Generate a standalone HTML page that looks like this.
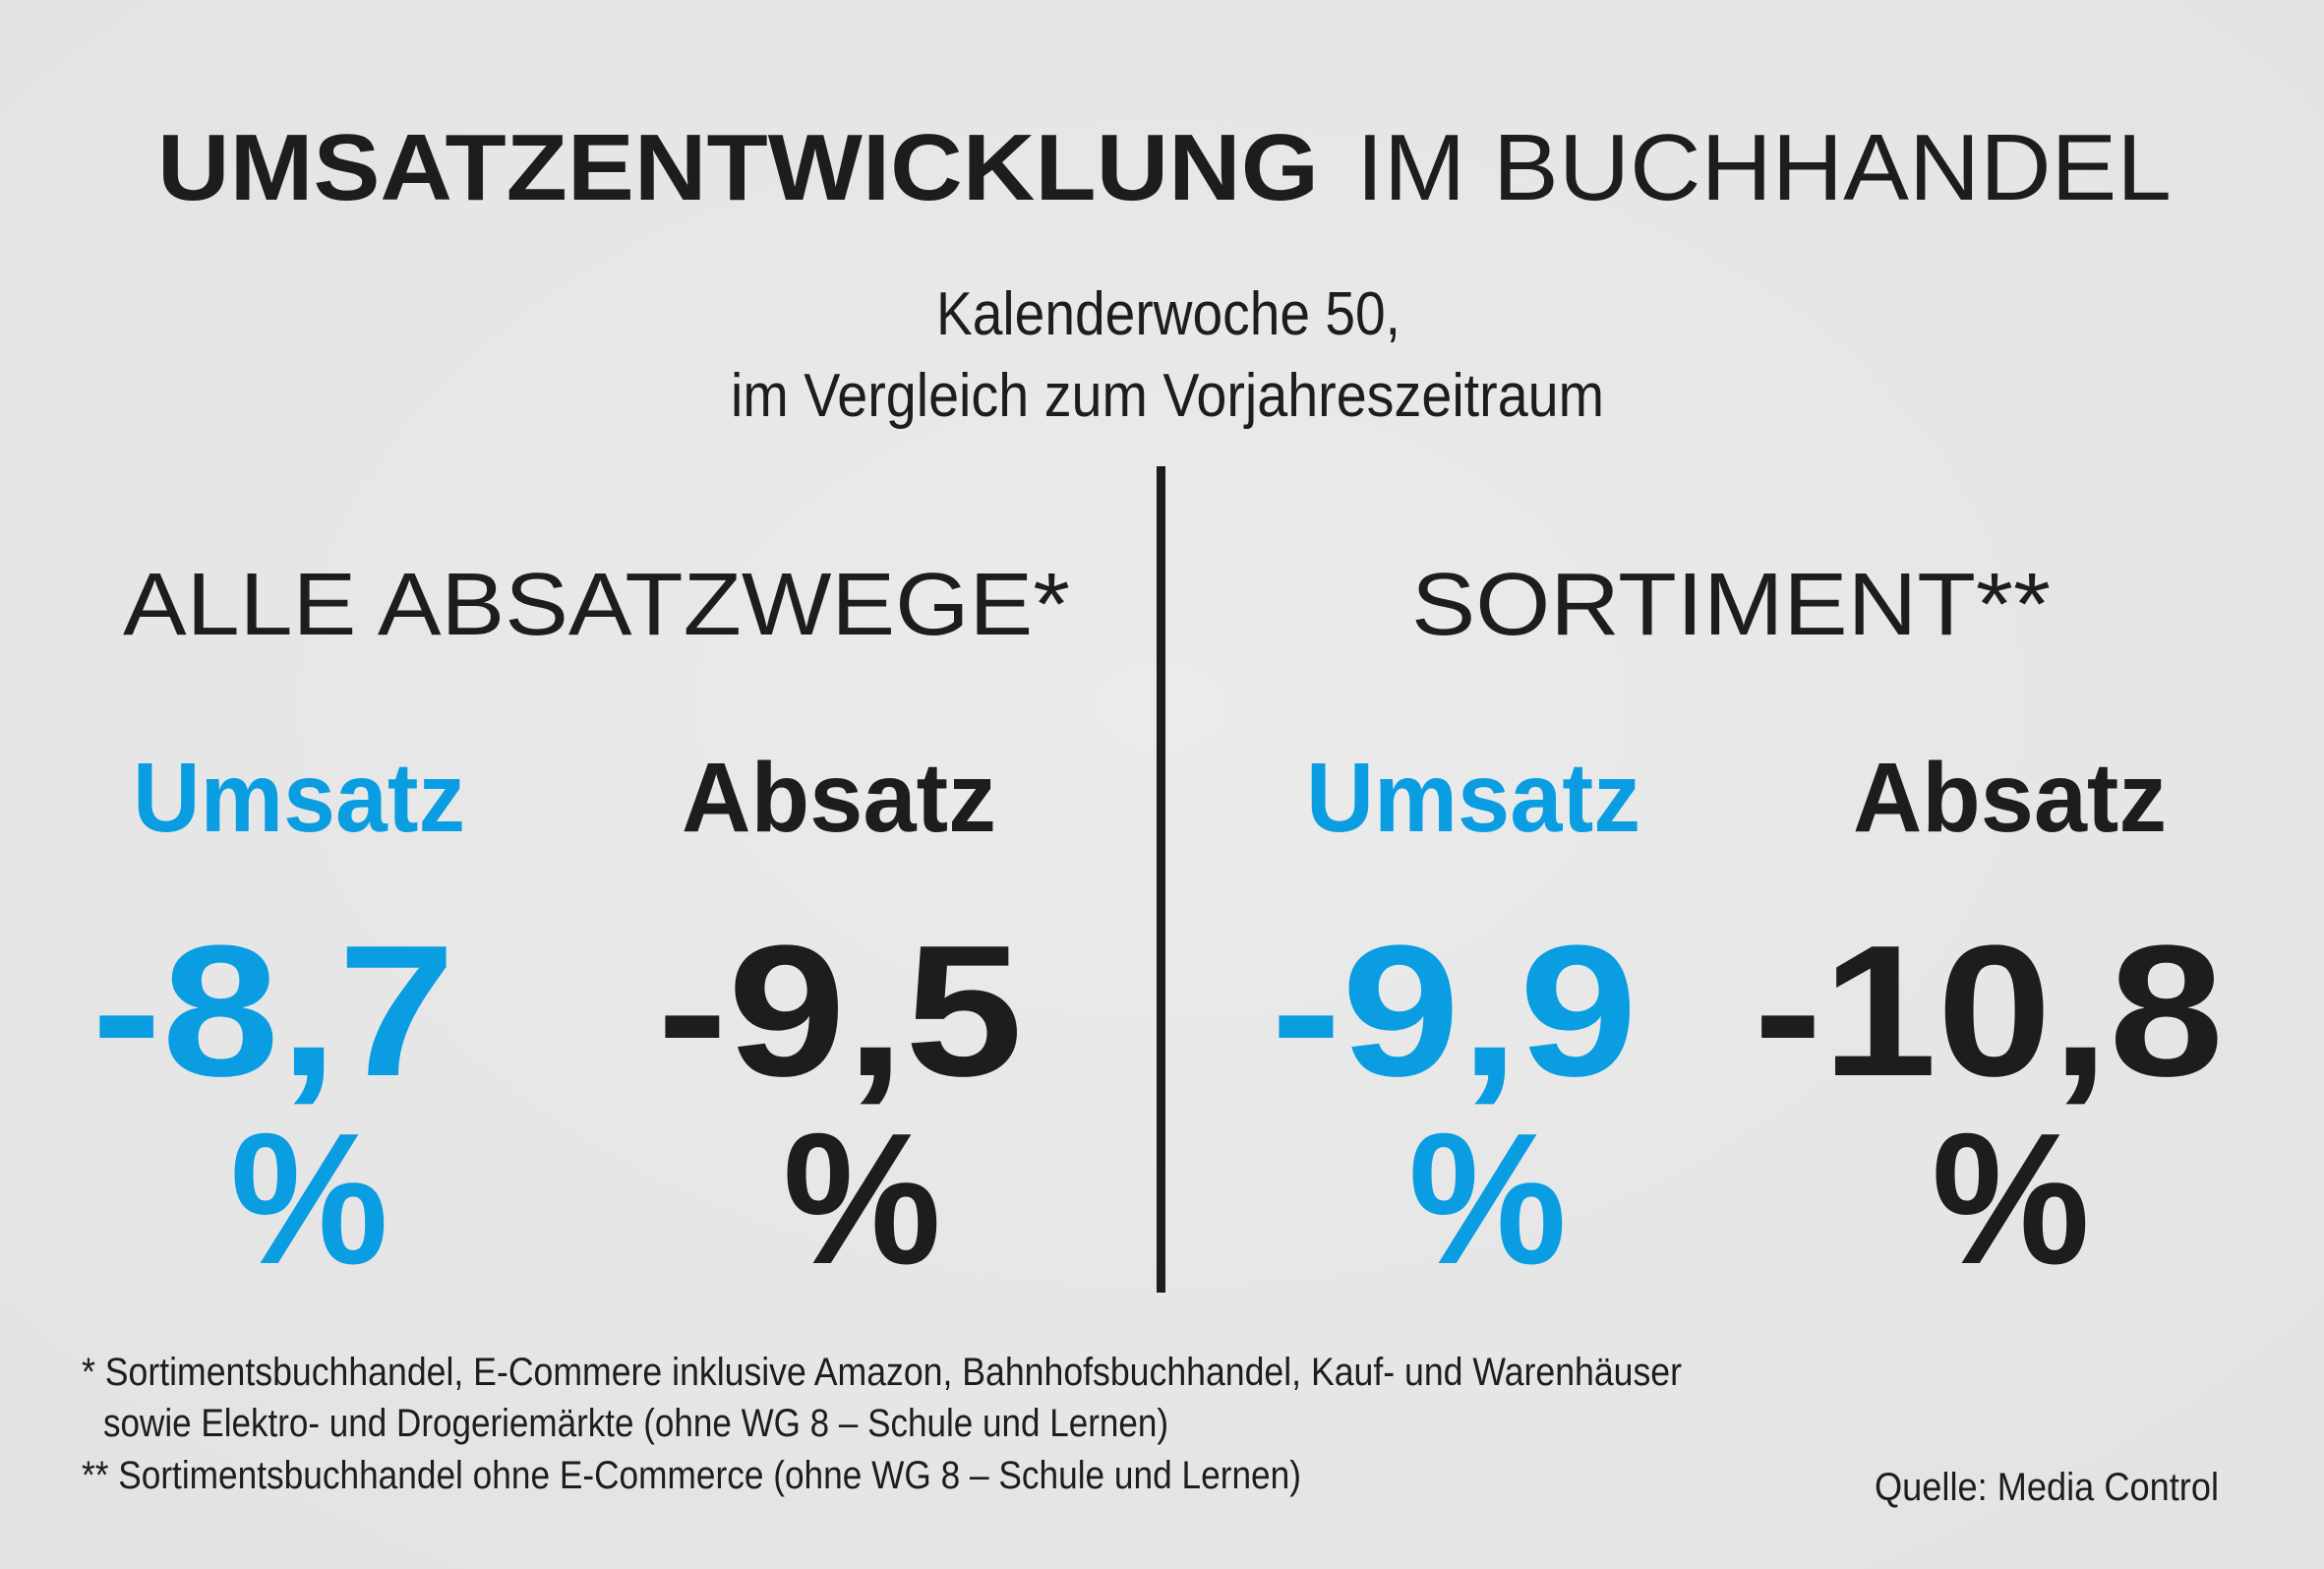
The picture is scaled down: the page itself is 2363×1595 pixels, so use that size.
<!DOCTYPE html>
<html><head><meta charset="utf-8"><style>
html,body{margin:0;padding:0;}
body{width:2363px;height:1595px;overflow:hidden;background:#e7e7e7;}
svg{display:block}
</style></head><body>
<svg width="2363" height="1595" viewBox="0 0 2363 1595" xmlns="http://www.w3.org/2000/svg">
<defs><radialGradient id="bg" cx="50%" cy="45%" r="75%"><stop offset="0" stop-color="#ebebeb"/><stop offset="1" stop-color="#e2e2e2"/></radialGradient></defs>
<rect width="2363" height="1595" fill="url(#bg)"/>
<g font-family="Liberation Sans, sans-serif" fill="#1d1d1b">
<text x="160" y="203" font-size="96" font-weight="bold" textLength="1181" lengthAdjust="spacingAndGlyphs">UMSATZENTWICKLUNG</text>
<text x="1379" y="203" font-size="96" textLength="829" lengthAdjust="spacingAndGlyphs">IM BUCHHANDEL</text>
<text x="952" y="340" font-size="62" textLength="472" lengthAdjust="spacingAndGlyphs">Kalenderwoche 50,</text>
<text x="743" y="423" font-size="62" textLength="888" lengthAdjust="spacingAndGlyphs">im Vergleich zum Vorjahreszeitraum</text>
<text x="125" y="645" font-size="90" textLength="963" lengthAdjust="spacingAndGlyphs">ALLE ABSATZWEGE*</text>
<text x="1435" y="645" font-size="90" textLength="650" lengthAdjust="spacingAndGlyphs">SORTIMENT**</text>
<g font-weight="bold">
<text x="135" y="845" font-size="100" fill="#0a9de2" textLength="338" lengthAdjust="spacingAndGlyphs">Umsatz</text>
<text x="693" y="845" font-size="100" textLength="320" lengthAdjust="spacingAndGlyphs">Absatz</text>
<text x="1328" y="845" font-size="100" fill="#0a9de2" textLength="340" lengthAdjust="spacingAndGlyphs">Umsatz</text>
<text x="1884" y="845" font-size="100" textLength="319" lengthAdjust="spacingAndGlyphs">Absatz</text>
<text x="93" y="1093" font-size="190" fill="#0a9de2" textLength="370" lengthAdjust="spacingAndGlyphs">-8,7</text>
<text x="668" y="1093" font-size="190" textLength="372" lengthAdjust="spacingAndGlyphs">-9,5</text>
<text x="1292" y="1093" font-size="190" fill="#0a9de2" textLength="373" lengthAdjust="spacingAndGlyphs">-9,9</text>
<text x="1783" y="1093" font-size="190" textLength="478" lengthAdjust="spacingAndGlyphs">-10,8</text>
<text x="234" y="1284" font-size="190" fill="#0a9de2" textLength="161" lengthAdjust="spacingAndGlyphs">%</text>
<text x="796" y="1284" font-size="190" textLength="161" lengthAdjust="spacingAndGlyphs">%</text>
<text x="1432" y="1284" font-size="190" fill="#0a9de2" textLength="161" lengthAdjust="spacingAndGlyphs">%</text>
<text x="1964" y="1284" font-size="190" textLength="161" lengthAdjust="spacingAndGlyphs">%</text>
</g>
<text x="83" y="1408" font-size="40" textLength="1627" lengthAdjust="spacingAndGlyphs">* Sortimentsbuchhandel, E-Commere inklusive Amazon, Bahnhofsbuchhandel, Kauf- und Warenhäuser</text>
<text x="105" y="1460" font-size="40" textLength="1083" lengthAdjust="spacingAndGlyphs">sowie Elektro- und Drogeriemärkte (ohne WG 8 – Schule und Lernen)</text>
<text x="83" y="1513" font-size="40" textLength="1240" lengthAdjust="spacingAndGlyphs">** Sortimentsbuchhandel ohne E-Commerce (ohne WG 8 – Schule und Lernen)</text>
<text x="1906" y="1525" font-size="40" textLength="350" lengthAdjust="spacingAndGlyphs">Quelle: Media Control</text>
</g>
<rect x="1176" y="474" width="9" height="840" fill="#1d1d1b"/>
</svg>
</body></html>
